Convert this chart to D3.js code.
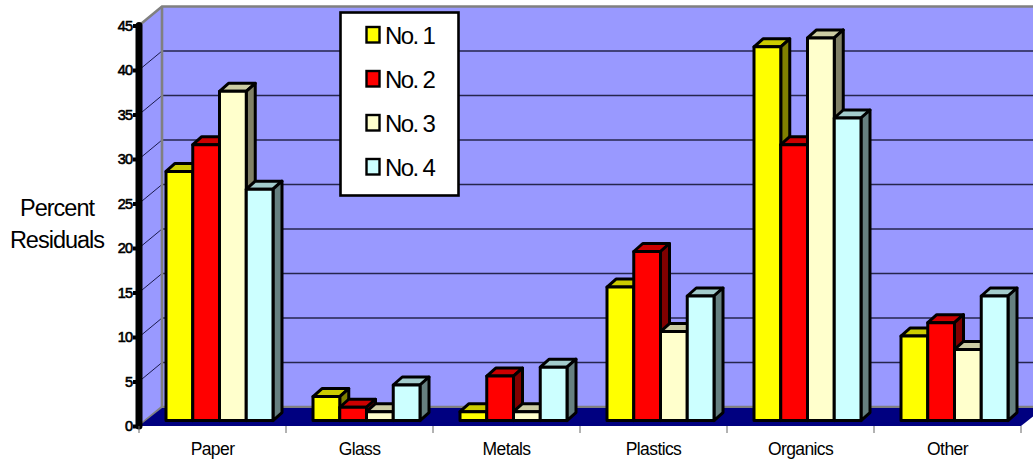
<!DOCTYPE html>
<html>
<head>
<meta charset="utf-8">
<style>
  html, body { margin: 0; padding: 0; background: #fff; }
  svg { display: block; }
  text { font-family: "Liberation Sans", Arial, sans-serif; fill: #000; }
</style>
<script src="https://cdn.jsdelivr.net/npm/d3@7/dist/d3.min.js"></script>
</head>
<body>
<svg id="chart" width="1033" height="459"></svg>
<script>
// Waste composition by sample, drawn as a pseudo-3D clustered column chart.
const categories = ["Paper", "Glass", "Metals", "Plastics", "Organics", "Other"];
const seriesNames = ["No. 1", "No. 2", "No. 3", "No. 4"];
const no1 = [28, 2.7, 1, 15, 42, 9.5];
const no2 = [31, 1.5, 5, 19, 31, 11];
const no3 = [37, 1, 1, 10, 43, 8];
const no4 = [26, 4, 6, 14, 34, 14];
const seriesValues = [no1, no2, no3, no4];
const yTicks = [0, 5, 10, 15, 20, 25, 30, 35, 40, 45];

// Face colours per series: front, top, side.
const frontColors = ["#ffff00", "#ff0000", "#ffffcc", "#ccffff"];
const topColors = ["#cccc00", "#cc0000", "#cccca3", "#a3cccc"];
const sideColors = ["#808000", "#800000", "#808066", "#668080"];

const svg = d3.select("#chart");

// Front plane of the plot box, and the offset from it to the back wall.
const x = d3.scaleBand().domain(categories).range([139, 1021]);
const y = d3.scaleLinear().domain([0, 45]).range([426, 25.5]);
const wallDx = 23, wallDy = -19;
const barShiftX = 7, barShiftY = -5.4;
const barDx = 9, barDy = -8;

const bandInset = 20;
const seriesBand = d3.scaleBand()
  .domain(d3.range(seriesNames.length))
  .range([bandInset, x.bandwidth() - bandInset]);

const pts = a => a.map(p => p.join(",")).join(" ");
const xMax = x.range()[1], xMin = x.range()[0];
const y0 = y(0), yTop = y(45);

// Walls and floor
svg.append("polygon").attr("fill", "#9999ff")
  .attr("points", pts([[xMin, yTop], [xMin + wallDx, yTop + wallDy], [xMin + wallDx, y0 + wallDy], [xMin, y0]]));
svg.append("polygon").attr("fill", "#9999ff")
  .attr("points", pts([[xMin + wallDx, yTop + wallDy], [xMax + wallDx, yTop + wallDy], [xMax + wallDx, y0 + wallDy], [xMin + wallDx, y0 + wallDy]]));

// Gridlines across the side and back walls
const grid = svg.append("g");
yTicks.filter(v => v > 0 && v < 45).forEach(v => {
  grid.append("line")
    .attr("x1", xMin).attr("y1", y(v)).attr("x2", xMin + wallDx).attr("y2", y(v) + wallDy)
    .attr("stroke", "#1a1a4d").attr("stroke-width", 1);
  grid.append("line")
    .attr("x1", xMin + wallDx).attr("y1", y(v) + wallDy).attr("x2", xMax + wallDx).attr("y2", y(v) + wallDy)
    .attr("stroke", "#26264d").attr("stroke-width", 1.3);
});

// Grey frame on the wall edges
svg.append("polyline").attr("fill", "none").attr("stroke", "#808080").attr("stroke-width", 2.6)
  .attr("points", pts([[xMin, yTop], [xMin + wallDx, yTop + wallDy], [xMax + wallDx, yTop + wallDy]]));
svg.append("polyline").attr("fill", "none").attr("stroke", "#808080").attr("stroke-width", 2.6)
  .attr("points", pts([[xMin + wallDx, yTop + wallDy], [xMin + wallDx, y0 + wallDy], [xMin, y0]]));
svg.append("line").attr("stroke", "#808080").attr("stroke-width", 2.6)
  .attr("x1", xMin + wallDx).attr("x2", xMax + wallDx).attr("y1", y0 + wallDy).attr("y2", y0 + wallDy);

svg.append("polygon").attr("fill", "#000080")
  .attr("points", pts([[xMin, y0], [xMin + wallDx, y0 + wallDy + 1], [xMax + wallDx, y0 + wallDy + 1], [xMax, y0]]));

// Columns, one series at a time so later series overlap earlier side faces
const barStroke = { stroke: "#000", "stroke-width": 3, "stroke-linejoin": "round" };
const bars = svg.append("g").attr("class", "bars");
seriesValues.forEach((values, s) => {
  const g = bars.append("g");
  values.forEach((v, c) => {
    const l = x(categories[c]) + seriesBand(s) + barShiftX;
    const r = l + seriesBand.bandwidth();
    const t = y(v) + barShiftY;
    const b = y0 + barShiftY;
    const faces = [
      [topColors[s], [[l, t], [l + barDx, t + barDy], [r + barDx, t + barDy], [r, t]]],
      [sideColors[s], [[r, t], [r + barDx, t + barDy], [r + barDx, b + barDy], [r, b]]],
      [frontColors[s], [[l, t], [r, t], [r, b], [l, b]]]
    ];
    faces.forEach(([fill, p]) => {
      const poly = g.append("polygon").attr("fill", fill).attr("points", pts(p));
      Object.entries(barStroke).forEach(([k, val]) => poly.attr(k, val));
    });
  });
});

// Value axis: heavy black rule with stubby ticks
const yAxis = svg.append("g")
  .attr("transform", `translate(${xMin},0)`)
  .call(d3.axisLeft(y).tickValues(yTicks).tickSize(6).tickPadding(1).tickFormat(d3.format("d")));
yAxis.select(".domain").attr("stroke", "#000").attr("stroke-width", 7).attr("stroke-linecap", "round")
  .attr("d", `M0,${yTop}V${y0}`);
yAxis.selectAll(".tick line").attr("stroke", "#000").attr("stroke-width", 4);
yAxis.selectAll(".tick text")
  .style("font-family", '"Liberation Sans", Arial, sans-serif')
  .style("font-size", "14.5px").style("letter-spacing", "-1px")
  .style("stroke", "#000").style("stroke-width", "0.6px");

// Category axis: labels centred in each band, ticks on the band edges
const xAxis = svg.append("g")
  .attr("transform", `translate(0,${y0})`)
  .call(d3.axisBottom(x).tickSize(0).tickPadding(17));
xAxis.select(".domain").remove();
xAxis.selectAll(".tick text")
  .style("font-family", '"Liberation Sans", Arial, sans-serif')
  .style("font-size", "17.5px").style("letter-spacing", "-0.6px");
svg.append("g").selectAll("line")
  .data(categories.concat("end"))
  .join("line")
  .attr("x1", (d, i) => xMin + i * x.bandwidth())
  .attr("x2", (d, i) => xMin + i * x.bandwidth())
  .attr("y1", y0).attr("y2", y0 + 7)
  .attr("stroke", "#666").attr("stroke-width", 1);

// Axis title
const title = svg.append("text").attr("text-anchor", "middle")
  .attr("font-size", 23.5).attr("letter-spacing", "-1");
title.append("tspan").attr("x", 57).attr("y", 216).text("Percent");
title.append("tspan").attr("x", 57).attr("y", 248).text("Residuals");

// Legend
const legend = svg.append("g");
legend.append("rect")
  .attr("x", 340.5).attr("y", 12.5).attr("width", 118).attr("height", 183)
  .attr("fill", "#fff").attr("stroke", "#000").attr("stroke-width", 2.6);
const legendRow = d3.scalePoint().domain(seriesNames).range([35, 167]);
seriesNames.forEach((name, i) => {
  legend.append("rect")
    .attr("x", 366.5).attr("y", legendRow(name) - 8).attr("width", 13).attr("height", 15.5)
    .attr("fill", frontColors[i]).attr("stroke", "#000").attr("stroke-width", 2.4);
  legend.append("text")
    .attr("x", 385).attr("y", legendRow(name) + 9)
    .attr("font-size", 24).attr("letter-spacing", "-1.6").text(name);
});
</script>
</body>
</html>
